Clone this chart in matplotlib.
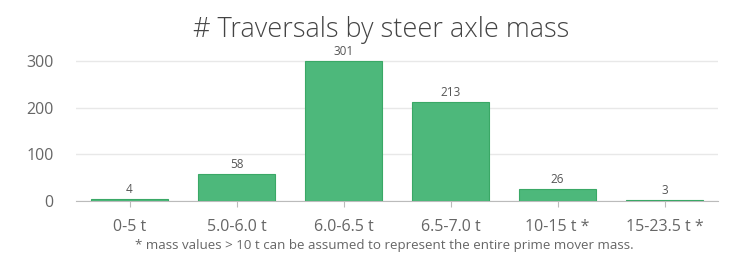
import numpy as np
import matplotlib
matplotlib.use("Agg")
import matplotlib.pyplot as plt

plt.rcParams['font.family'] = ['Open Sans', 'DejaVu Sans']

categories = ["0-5 t", "5.0-6.0 t", "6.0-6.5 t", "6.5-7.0 t", "10-15 t *", "15-23.5 t *"]
counts = [4, 58, 301, 213, 26, 3]
yticks = [0, 100, 200, 300]

fig = plt.figure(figsize=(7.41, 2.56), dpi=100)
ax = fig.add_axes([76/741, 1-201/256, (718-76)/741, (201-52)/256])

x = np.arange(len(categories))
bars = ax.bar(x, counts, width=0.72, color="#4db87b", edgecolor="#3aa866", linewidth=0.8, zorder=3)
for xi, v in zip(x, counts):
    ax.text(xi, v + 6, str(v), ha="center", va="bottom", fontsize=8.5, color="#555555")

ax.set_xlim(-0.5, len(categories) - 0.5)
ax.set_ylim(0, 320)
ax.set_yticks(yticks)
ax.set_xticks(x)
ax.set_xticklabels(categories, fontsize=11.5, color="#666666")
ax.tick_params(axis="y", length=0, labelsize=11.5, labelcolor="#666666", pad=16)
ax.tick_params(axis="x", length=4, color="#bbbbbb", pad=9)
ax.grid(axis="y", color="#e8e8e8", linewidth=1, zorder=0)
for s in ["top", "right", "left"]:
    ax.spines[s].set_visible(False)
ax.spines["bottom"].set_color("#bbbbbb")

fig.text(0.514, 1-30/256, "# Traversals by steer axle mass", ha="center", va="center",
         fontsize=19.5, color="#444444", fontweight="light")
fig.text(0.519, 1-245/256, "* mass values > 10 t can be assumed to represent the entire prime mover mass.",
         ha="center", va="center", fontsize=9.6, color="#666666")

fig.savefig("out.png", dpi=100)
